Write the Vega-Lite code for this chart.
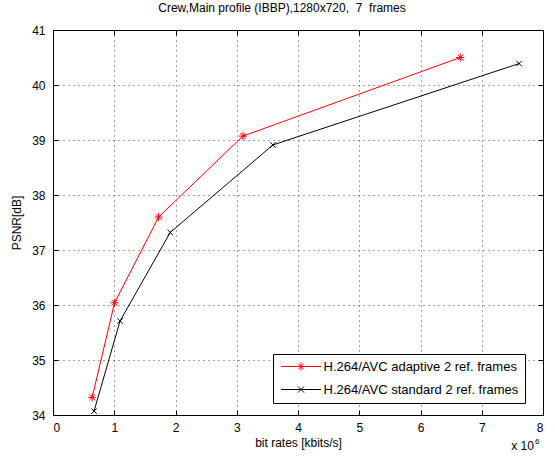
{
  "$schema": "https://vega.github.io/schema/vega-lite/v6.json",
  "width": 490,
  "height": 385,
  "autosize": {"type": "none"},
  "padding": {"left": 53, "top": 30, "right": 12, "bottom": 42},
  "background": "white",
  "title": {"text": "Crew,Main profile (IBBP),1280x720, \u00a07 \u00a0frames", "fontSize": 12, "fontWeight": "normal", "font": "Liberation Sans", "color": "black", "offset": 9, "dx": -16},
  "config": {
    "font": "Liberation Sans",
    "view": {"stroke": "black", "strokeWidth": 1},
    "axis": {
      "domainColor": "black", "tickColor": "black", "tickSize": -5,
      "labelColor": "black", "labelFontSize": 12, "labelFont": "Liberation Sans",
      "titleColor": "black", "titleFontSize": 12, "titleFontWeight": "normal", "titleFont": "Liberation Sans",
      "gridColor": "#444", "gridDash": [1, 4], "gridOpacity": 1
    }
  },
  "datasets": {
    "curves": [
      {"series": "H.264/AVC adaptive 2 ref. frames", "rate": 640000, "psnr": 34.32},
      {"series": "H.264/AVC adaptive 2 ref. frames", "rate": 1005000, "psnr": 36.04},
      {"series": "H.264/AVC adaptive 2 ref. frames", "rate": 1725000, "psnr": 37.6},
      {"series": "H.264/AVC adaptive 2 ref. frames", "rate": 3100000, "psnr": 39.07},
      {"series": "H.264/AVC adaptive 2 ref. frames", "rate": 6650000, "psnr": 40.5},
      {"series": "H.264/AVC standard 2 ref. frames", "rate": 670000, "psnr": 34.07},
      {"series": "H.264/AVC standard 2 ref. frames", "rate": 1095000, "psnr": 35.71},
      {"series": "H.264/AVC standard 2 ref. frames", "rate": 1915000, "psnr": 37.32},
      {"series": "H.264/AVC standard 2 ref. frames", "rate": 3590000, "psnr": 38.91},
      {"series": "H.264/AVC standard 2 ref. frames", "rate": 7610000, "psnr": 40.39}
    ],
    "one": [{"note": "x 10"}]
  },
  "resolve": {"axis": {"x": "independent", "y": "independent"}},
  "layer": [
    {
      "data": {"name": "curves"},
      "mark": {"type": "line", "strokeWidth": 1, "clip": false},
      "encoding": {
        "x": {"field": "rate", "type": "quantitative", "scale": {"domain": [0, 8000000], "nice": false, "zero": false},
          "axis": {"values": [0,1000000,2000000,3000000,4000000,5000000,6000000,7000000,8000000], "labelExpr": "datum.value/1000000", "title": "bit rates [kbits/s]", "grid": true, "labelPadding": 12, "titlePadding": 4}},
        "y": {"field": "psnr", "type": "quantitative", "scale": {"domain": [34, 41], "nice": false, "zero": false},
          "axis": {"values": [34,35,36,37,38,39,40,41], "format": "d", "title": "PSNR[dB]", "grid": true, "labelPadding": 13, "titlePadding": 8}},
        "color": {"field": "series", "type": "nominal",
          "scale": {"domain": ["H.264/AVC adaptive 2 ref. frames", "H.264/AVC standard 2 ref. frames"], "range": ["#ff0000", "#000000"]},
          "legend": {
            "title": null, "orient": "none", "legendX": 220, "legendY": 324,
            "strokeColor": "black", "fillColor": "white", "padding": 6,
            "labelFontSize": 13, "labelFont": "Liberation Sans", "labelColor": "black", "labelLimit": 400,
            "labelExpr": "datum.label + '\u00a0\u00a0'",
            "symbolType": "M-5,0H5", "symbolSize": 64, "symbolStrokeWidth": 1, "symbolOffset": 15.5, "labelOffset": 16, "rowPadding": 9,
            "encode": {"symbols": {"update": {
              "shape": {"signal": "datum.value === 'H.264/AVC adaptive 2 ref. frames' ? 'M-5,0H5M-1,0H1M0,-1V1M-0.7,-0.7L0.7,0.7M-0.7,0.7L0.7,-0.7' : 'M-5,0H5M-0.75,-0.75L0.75,0.75M-0.75,0.75L0.75,-0.75'"},
              "fill": {"value": "transparent"},
              "strokeWidth": {"value": 1},
              "opacity": {"value": 1}
            }}}
          }}
      }
    },
    {
      "data": {"name": "curves"},
      "transform": [{"filter": "datum.series === 'H.264/AVC adaptive 2 ref. frames'"}],
      "mark": {"type": "point", "shape": "M-1,0H1M0,-1V1M-0.7,-0.7L0.7,0.7M-0.7,0.7L0.7,-0.7", "size": 64, "filled": false, "strokeWidth": 1, "opacity": 1, "clip": false},
      "encoding": {
        "x": {"field": "rate", "type": "quantitative", "axis": null},
        "y": {"field": "psnr", "type": "quantitative", "axis": null},
        "color": {"field": "series", "type": "nominal"}
      }
    },
    {
      "data": {"name": "curves"},
      "transform": [{"filter": "datum.series === 'H.264/AVC standard 2 ref. frames'"}],
      "mark": {"type": "point", "shape": "M-1,-1L1,1M-1,1L1,-1", "size": 30, "filled": false, "strokeWidth": 1, "opacity": 1, "clip": false},
      "encoding": {
        "x": {"field": "rate", "type": "quantitative", "axis": null},
        "y": {"field": "psnr", "type": "quantitative", "axis": null},
        "color": {"field": "series", "type": "nominal"}
      }
    },
    {
      "data": {"name": "one"},
      "mark": {"type": "text", "align": "right", "baseline": "alphabetic", "fontSize": 12, "fontWeight": "normal", "font": "Liberation Sans", "color": "black"},
      "encoding": {
        "x": {"datum": 7850000, "type": "quantitative", "axis": null},
        "y": {"datum": 33.36, "type": "quantitative", "axis": null},
        "text": {"field": "note"}
      }
    },
    {
      "data": {"name": "one"},
      "mark": {"type": "text", "align": "left", "baseline": "alphabetic", "fontSize": 8, "fontWeight": "normal", "font": "Liberation Sans", "color": "black"},
      "encoding": {
        "x": {"datum": 7870000, "type": "quantitative", "axis": null},
        "y": {"datum": 33.47, "type": "quantitative", "axis": null},
        "text": {"value": "6"}
      }
    },
    {
      "data": {"name": "one"},
      "mark": {"type": "rule", "opacity": 0},
      "encoding": {
        "x": {"datum": 0, "type": "quantitative", "axis": {"orient": "top", "labels": false, "title": null, "grid": false, "values": [0,1000000,2000000,3000000,4000000,5000000,6000000,7000000,8000000]}},
        "y": {"datum": 34, "type": "quantitative", "axis": {"orient": "right", "labels": false, "title": null, "grid": false, "values": [34,35,36,37,38,39,40,41]}}
      }
    }
  ]
}
